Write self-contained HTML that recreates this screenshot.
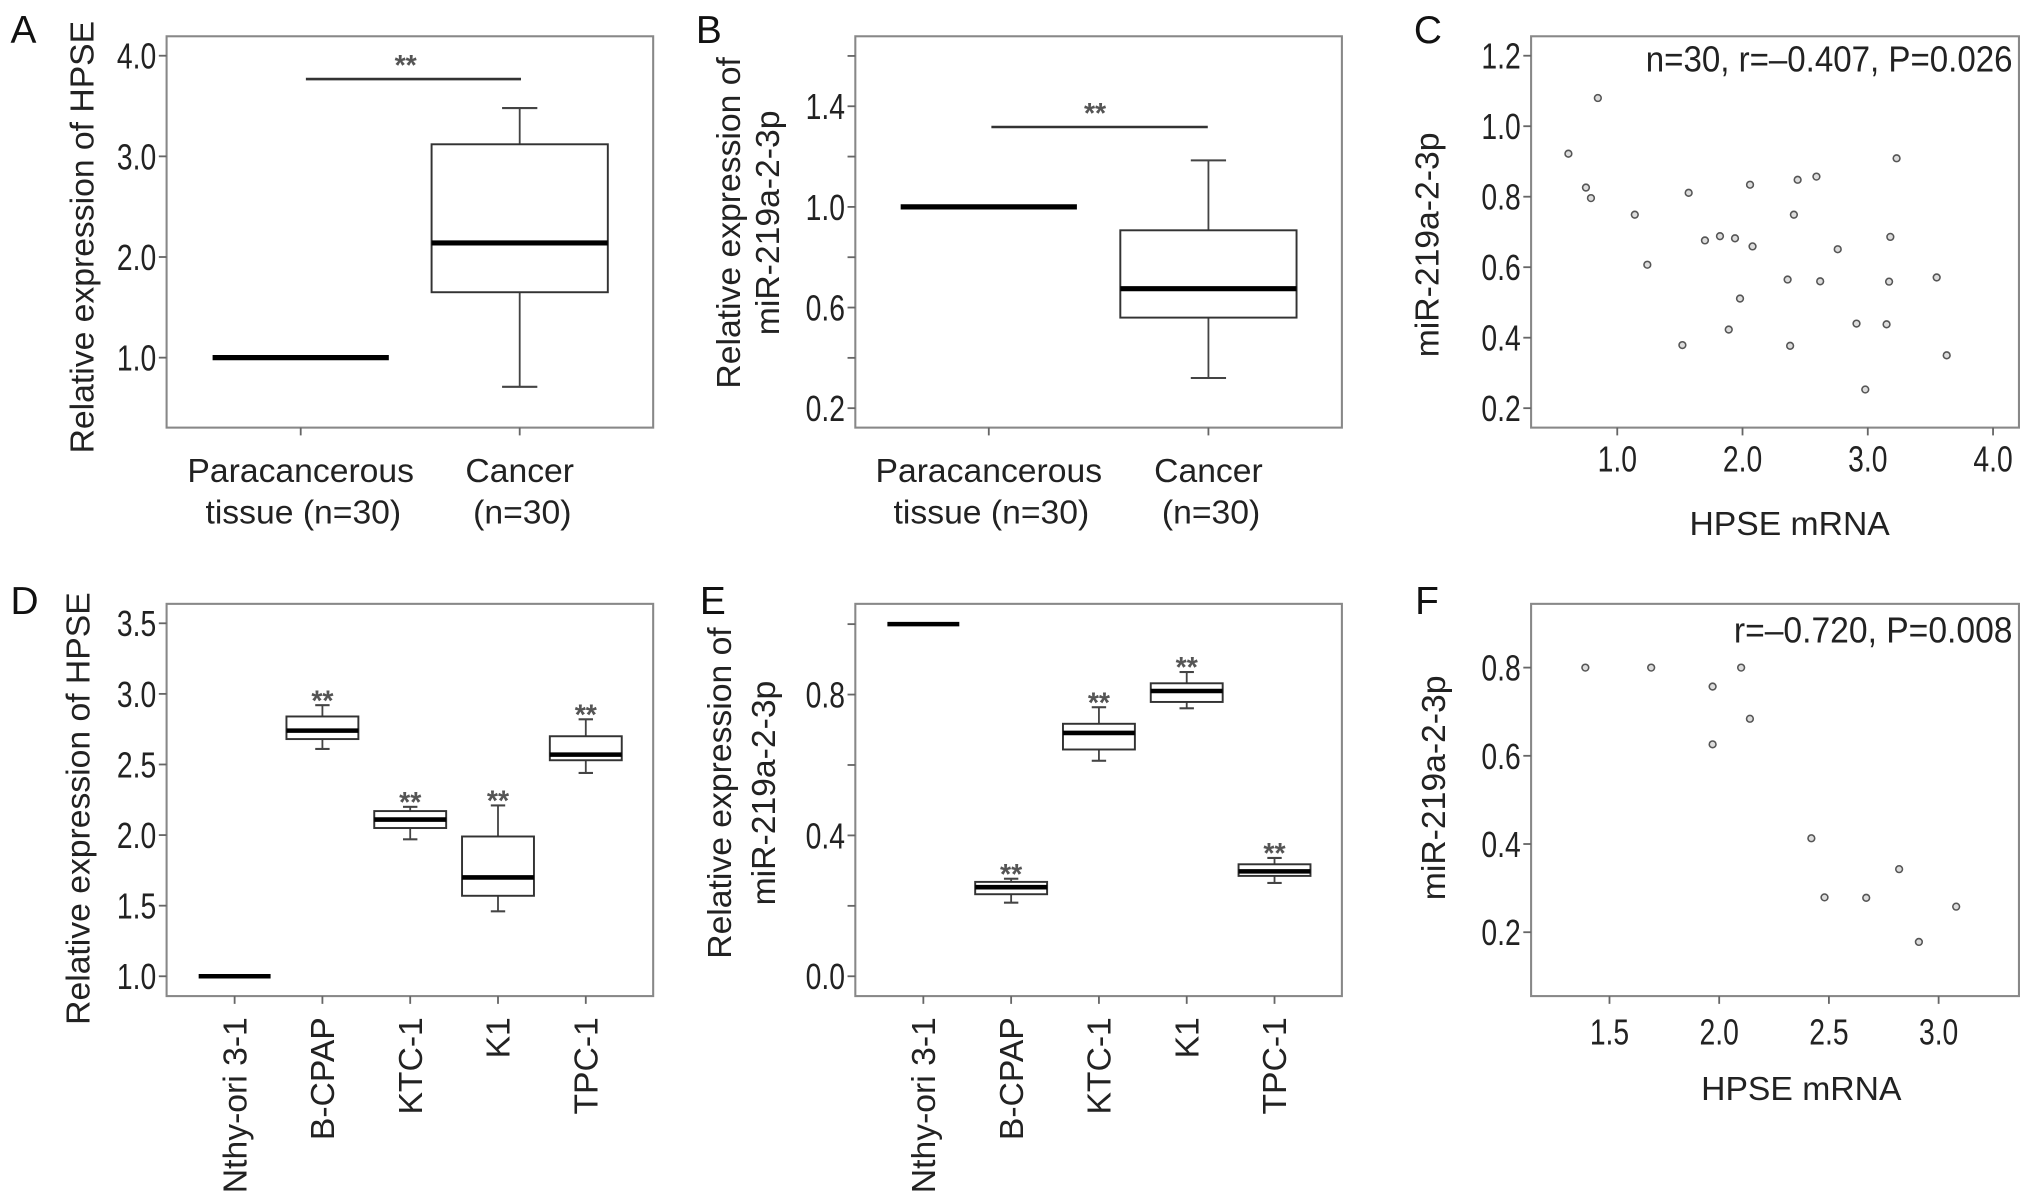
<!DOCTYPE html>
<html><head><meta charset="utf-8"><style>
html,body{margin:0;padding:0;background:#fff;}
svg{display:block;font-family:"Liberation Sans",Arial,sans-serif;}
</style></head><body>
<svg id="fig" width="2032" height="1202" viewBox="0 0 1568 927.6" xmlns="http://www.w3.org/2000/svg"></svg>
<script>
// ---------- data ----------
const aCats=['Paracancerous|tissue (n=30)','Cancer|(n=30)'];
const aMin=[1.0,0.71], aQ1=[1.0,1.65], aMed=[1.0,2.14], aQ3=[1.0,3.12], aMax=[1.0,3.48];
const aTicks=[1.0,2.0,3.0,4.0];
const aTickLabels=['1.0','2.0','3.0','4.0'];

const bCats=['Paracancerous|tissue (n=30)','Cancer|(n=30)'];
const bMin=[1.0,0.32], bQ1=[1.0,0.56], bMed=[1.0,0.675], bQ3=[1.0,0.907], bMax=[1.0,1.185];
const bTicks=[0.2,0.4,0.6,0.8,1.0,1.2,1.4,1.6];
const bTickLabels=['0.2','','0.6','','1.0','','1.4',''];

const cX=[0.845,0.61,0.75,0.79,1.14,1.24,1.57,1.52,1.70,1.82,1.94,2.08,2.06,1.98,1.89,2.36,2.41,2.44,2.59,2.38,2.62,2.76,2.98,2.91,3.15,3.17,3.18,3.23,3.55,3.63];
const cY=[1.08,0.922,0.826,0.796,0.749,0.607,0.811,0.379,0.676,0.688,0.682,0.659,0.834,0.511,0.423,0.565,0.749,0.848,0.857,0.377,0.560,0.651,0.253,0.440,0.438,0.559,0.686,0.909,0.571,0.350];
const cXTicks=[1.0,2.0,3.0,4.0], cXTickLabels=['1.0','2.0','3.0','4.0'];
const cYTicks=[0.2,0.4,0.6,0.8,1.0,1.2], cYTickLabels=['0.2','0.4','0.6','0.8','1.0','1.2'];

const dCats=['Nthy-ori 3-1','B-CPAP','KTC-1','K1','TPC-1'];
const dMin=[1.0,2.61,1.97,1.46,2.44], dQ1=[1.0,2.68,2.05,1.57,2.53], dMed=[1.0,2.74,2.11,1.70,2.57], dQ3=[1.0,2.84,2.17,1.99,2.70], dMax=[1.0,2.92,2.20,2.21,2.82];
const dSig=['','**','**','**','**'];
const dTicks=[1.0,1.5,2.0,2.5,3.0,3.5], dTickLabels=['1.0','1.5','2.0','2.5','3.0','3.5'];

const eCats=['Nthy-ori 3-1','B-CPAP','KTC-1','K1','TPC-1'];
const eMin=[1.0,0.209,0.612,0.761,0.265], eQ1=[1.0,0.233,0.644,0.779,0.285], eMed=[1.0,0.253,0.691,0.810,0.298], eQ3=[1.0,0.268,0.717,0.832,0.318], eMax=[1.0,0.277,0.764,0.864,0.336];
const eSig=['','**','**','**','**'];
const eTicks=[0.0,0.2,0.4,0.6,0.8,1.0], eTickLabels=['0.0','','0.4','','0.8',''];

const fX=[1.39,1.69,2.10,1.97,2.14,1.97,2.42,2.48,2.67,2.82,3.08,2.91];
const fY=[0.80,0.80,0.80,0.757,0.684,0.626,0.413,0.279,0.278,0.343,0.258,0.178];
const fXTicks=[1.5,2.0,2.5,3.0], fXTickLabels=['1.5','2.0','2.5','3.0'];
const fYTicks=[0.2,0.4,0.6,0.8], fYTickLabels=['0.2','0.4','0.6','0.8'];

// ---------- helpers ----------
const NS='http://www.w3.org/2000/svg';
const svg=document.getElementById('fig');
function mk(tag,attrs,parent){const e=document.createElementNS(NS,tag);for(const k in attrs)e.setAttribute(k,attrs[k]);(parent||svg).appendChild(e);return e;}
function lin(d0,p0,d1,p1){return v=>p0+(v-d0)*(p1-p0)/(d1-d0);}
const AX='#666', TXT='#222';

function frame(g,x0,x1,y0,y1){
  const r=mk('rect',{x:x0,y:y0,width:x1-x0,height:y1-y0,fill:'none',stroke:'#888','stroke-width':1.6},g);
  
  
}
function yAxis(g,x0,ys,ticks,labels){
  ticks.forEach((t,i)=>{
    const y=ys(t);
    const l=mk('line',{x1:x0-6,x2:x0,y1:y,y2:y,stroke:AX,'stroke-width':1.4},g);
    
    
    if(labels[i]){
      const tx=mk('text',{transform:`translate(${x0-8},${y+10}) scale(0.78,1)`,'text-anchor':'end','font-size':28,fill:TXT},g);
      tx.textContent=labels[i];
      
      
    }
  });
}
function xAxisNum(g,y1,xs,ticks,labels,ly){
  ticks.forEach((t,i)=>{
    const x=xs(t);
    const l=mk('line',{x1:x,x2:x,y1:y1,y2:y1+6,stroke:AX,'stroke-width':1.4},g);
    
    
    const tx=mk('text',{transform:`translate(${x},${ly+1}) scale(0.78,1)`,'text-anchor':'middle','font-size':28,fill:TXT},g);
    tx.textContent=labels[i];
    
    
  });
}
function label(g,text,x,y,rot,size,name,anchor){
  const t=mk('text',{transform:`translate(${x},${y})`+(rot?` rotate(${rot})`:''),'text-anchor':anchor||'middle','font-size':size,fill:TXT},g);
  t.textContent=text;
  
  
  return t;
}
function boxes(g,xs,ys,w,mn,q1,md,q3,mx,medW,sig){
  mn.forEach((_,i)=>{
    const cx=xs[i];
    const bg=mk('g',{},g);
    
    
    const capW=w*0.2;
    if(mx[i]>q3[i]){
      mk('line',{x1:cx,x2:cx,y1:ys(q3[i]),y2:ys(mx[i]),stroke:'#444','stroke-width':1.4},bg);
      mk('line',{x1:cx-capW/2,x2:cx+capW/2,y1:ys(mx[i]),y2:ys(mx[i]),stroke:'#444','stroke-width':1.6},bg);
    }
    if(mn[i]<q1[i]){
      mk('line',{x1:cx,x2:cx,y1:ys(q1[i]),y2:ys(mn[i]),stroke:'#444','stroke-width':1.4},bg);
      mk('line',{x1:cx-capW/2,x2:cx+capW/2,y1:ys(mn[i]),y2:ys(mn[i]),stroke:'#444','stroke-width':1.6},bg);
    }
    if(q3[i]>q1[i]) mk('rect',{x:cx-w/2,y:ys(q3[i]),width:w,height:ys(q1[i])-ys(q3[i]),fill:'#fff',stroke:'#333','stroke-width':1.5},bg);
    mk('line',{x1:cx-w/2,x2:cx+w/2,y1:ys(md[i]),y2:ys(md[i]),stroke:'#000','stroke-width':medW},bg);
    if(sig&&sig[i]){
      const s=mk('text',{x:cx,y:ys(mx[i])+4,'text-anchor':'middle','font-size':22,'font-weight':'bold',fill:'#555'},g);
      s.textContent=sig[i];
      
      
    }
  });
}
function points(g,xs,ys,X,Y){
  X.forEach((v,i)=>{
    const c=mk('circle',{cx:xs(v),cy:ys(Y[i]),r:2.6,fill:'#ddd',stroke:'#555','stroke-width':1.2},g);
    
    
  });
}

// ---------- panel letters ----------
[['A',8,33],['B',537,33],['C',1091,33],['D',8,474],['E',540,474],['F',1092,474]].forEach(p=>{
  const t=mk('text',{x:p[1],y:p[2],'font-size':30,fill:'#111'});
  t.textContent=p[0];
  
  
});

// ---------- Panel A ----------
(function(){
  const g=mk('g',{});
  const x0=128.5,x1=504,y0=28,y1=330;
  const ys=lin(1,276,4,43);
  const xs=[232,401];
  frame(g,x0,x1,y0,y1);
  yAxis(g,x0,ys,aTicks,aTickLabels);
  boxes(g,xs,ys,136,aMin,aQ1,aMed,aQ3,aMax,4,null);
  xs.forEach((x,i)=>{
    const l=mk('line',{x1:x,x2:x,y1:y1,y2:y1+6,stroke:AX,'stroke-width':1.4},g);
    
    const parts=aCats[i].split('|');
    label(g,parts[0],x,372,0,26,'x-category-label');
    label(g,parts[1],x+2,404,0,26,'x-category-label');
  });
  const sb=mk('line',{x1:236,x2:402,y1:61,y2:61,stroke:'#333','stroke-width':2},g);
  
  const s=mk('text',{x:313,y:58,'text-anchor':'middle','font-size':22,'font-weight':'bold',fill:'#555'},g);s.textContent='**';
  
  label(g,'Relative expression of HPSE',72,183,-90,26,'y-axis-title');
})();

// ---------- Panel B ----------
(function(){
  const g=mk('g',{});
  const x0=660,x1=1035.5,y0=28,y1=330;
  const ys=lin(0.2,315,1.4,82);
  const xs=[763,932.5];
  frame(g,x0,x1,y0,y1);
  yAxis(g,x0,ys,bTicks,bTickLabels);
  boxes(g,xs,ys,136,bMin,bQ1,bMed,bQ3,bMax,4,null);
  xs.forEach((x,i)=>{
    const l=mk('line',{x1:x,x2:x,y1:y1,y2:y1+6,stroke:AX,'stroke-width':1.4},g);
    
    const parts=bCats[i].split('|');
    label(g,parts[0],x,372,0,26,'x-category-label');
    label(g,parts[1],x+2,404,0,26,'x-category-label');
  });
  const sb=mk('line',{x1:765,x2:932,y1:98,y2:98,stroke:'#333','stroke-width':2},g);
  
  const s=mk('text',{x:845,y:95,'text-anchor':'middle','font-size':22,'font-weight':'bold',fill:'#555'},g);s.textContent='**';
  
  label(g,'Relative expression of',571,172,-90,26,'y-axis-title');
  label(g,'miR-219a-2-3p',601,172,-90,26,'y-axis-title');
})();

// ---------- Panel C ----------
(function(){
  const g=mk('g',{});
  const x0=1181.5,x1=1558,y0=28,y1=330;
  const ys=lin(0.2,315,1.2,43), xs=lin(1,1248,4,1538);
  frame(g,x0,x1,y0,y1);
  yAxis(g,x0,ys,cYTicks,cYTickLabels);
  xAxisNum(g,y1,xs,cXTicks,cXTickLabels,363);
  points(g,xs,ys,cX,cY);
  const a=mk('text',{x:1553,y:55,'text-anchor':'end','font-size':28,fill:TXT,textLength:283,lengthAdjust:'spacingAndGlyphs'},g);
  a.textContent='n=30, r=\u20130.407, P=0.026';
  
  label(g,'HPSE mRNA',1381,413,0,26,'x-axis-title');
  label(g,'miR-219a-2-3p',1110,189,-90,26,'y-axis-title');
})();

// ---------- Panel D ----------
(function(){
  const g=mk('g',{});
  const x0=128.5,x1=504,y0=466,y1=768.7;
  const ys=lin(1,753.4,3.5,481);
  const xs=dCats.map((_,i)=>181+i*67.75);
  frame(g,x0,x1,y0,y1);
  yAxis(g,x0,ys,dTicks,dTickLabels);
  boxes(g,xs,ys,55.5,dMin,dQ1,dMed,dQ3,dMax,3.5,dSig);
  xs.forEach((x,i)=>{
    const l=mk('line',{x1:x,x2:x,y1:y1,y2:y1+6,stroke:AX,'stroke-width':1.4},g);
    
    label(g,dCats[i],x+9,785,-90,26,'x-category-label','end');
  });
  label(g,'Relative expression of HPSE',69,624,-90,26,'y-axis-title');
})();

// ---------- Panel E ----------
(function(){
  const g=mk('g',{});
  const x0=660,x1=1035.5,y0=466,y1=768.7;
  const ys=lin(0,753.4,0.8,536);
  const xs=eCats.map((_,i)=>712.5+i*67.75);
  frame(g,x0,x1,y0,y1);
  yAxis(g,x0,ys,eTicks,eTickLabels);
  boxes(g,xs,ys,55.5,eMin,eQ1,eMed,eQ3,eMax,3.5,eSig);
  xs.forEach((x,i)=>{
    const l=mk('line',{x1:x,x2:x,y1:y1,y2:y1+6,stroke:AX,'stroke-width':1.4},g);
    
    label(g,eCats[i],x+9,785,-90,26,'x-category-label','end');
  });
  label(g,'Relative expression of',564,612,-90,26,'y-axis-title');
  label(g,'miR-219a-2-3p',598,612,-90,26,'y-axis-title');
})();

// ---------- Panel F ----------
(function(){
  const g=mk('g',{});
  const x0=1181.5,x1=1558,y0=466,y1=768.7;
  const ys=lin(0.2,719.4,0.8,515.2), xs=lin(1.5,1242,3,1496);
  frame(g,x0,x1,y0,y1);
  yAxis(g,x0,ys,fYTicks,fYTickLabels);
  xAxisNum(g,y1,xs,fXTicks,fXTickLabels,805);
  points(g,xs,ys,fX,fY);
  const a=mk('text',{x:1553,y:496,'text-anchor':'end','font-size':28,fill:TXT,textLength:215,lengthAdjust:'spacingAndGlyphs'},g);
  a.textContent='r=\u20130.720, P=0.008';
  
  label(g,'HPSE mRNA',1390,849,0,26,'x-axis-title');
  label(g,'miR-219a-2-3p',1115,608,-90,26,'y-axis-title');
})();
</script>
</body></html>
